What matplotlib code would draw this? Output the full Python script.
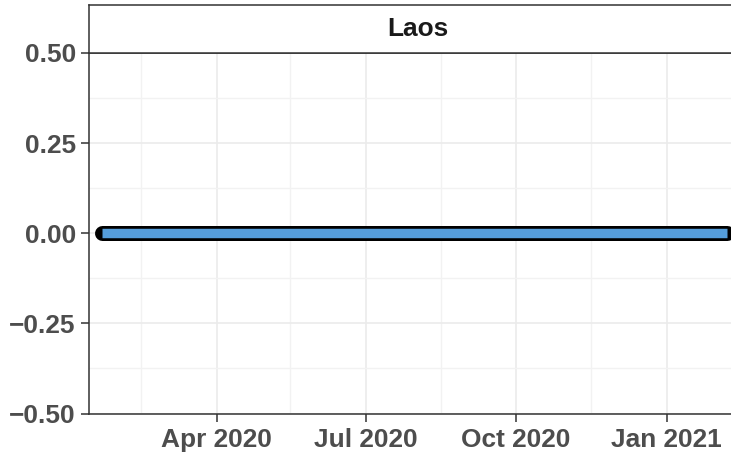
import matplotlib
matplotlib.use("Agg")
import matplotlib.pyplot as plt
import matplotlib.dates as mdates
import numpy as np
import pandas as pd

# ---- data ----
country = "Laos"
dates = pd.to_datetime(["2020-01-22", "2021-02-07"])
values = [0.0, 0.0]
y_ticks = [-0.50, -0.25, 0.00, 0.25, 0.50]
x_ticks = pd.to_datetime(["2020-04-01", "2020-07-01", "2020-10-01", "2021-01-01"])
x_minor = pd.to_datetime(["2020-02-15", "2020-05-16", "2020-08-16", "2020-11-16"])
x_limits = pd.to_datetime(["2020-01-14", "2021-02-27"])

W, H = 731, 453
fig = plt.figure(figsize=(W / 100, H / 100), dpi=100)
plt.rcParams['font.family'] = ['Liberation Sans', 'DejaVu Sans']

left_px, right_px, top_px, bot_px, strip_top_px = 89, 760, 53, 413.5, 5
ax = fig.add_axes([left_px / W, (H - bot_px) / H, (right_px - left_px) / W, (bot_px - top_px) / H])
strip = fig.add_axes([left_px / W, (H - top_px) / H, (right_px - left_px) / W, (top_px - strip_top_px) / H])

border = '#333333'
for s in ax.spines.values():
    s.set_color(border)
    s.set_linewidth(1.1)

ax.set_ylim(-0.5, 0.5)
ax.set_xlim(x_limits[0], x_limits[1])
ax.set_yticks(y_ticks)
ax.set_yticks([-0.375, -0.125, 0.125, 0.375], minor=True)
ax.yaxis.set_major_formatter(matplotlib.ticker.FuncFormatter(lambda v, p: ("%.2f" % v).replace('-', '\u2212')))
ax.set_xticks(x_ticks)
ax.set_xticks(x_minor, minor=True)
ax.xaxis.set_major_formatter(mdates.DateFormatter('%b %Y'))

ax.grid(True, which='major', color='#EBEBEB', linewidth=1.2)
ax.grid(True, which='minor', color='#F2F2F2', linewidth=1.0)
ax.set_axisbelow(True)

ax.tick_params(axis='y', which='major', length=5.5, width=1.1, color=border,
               labelsize=18.9, labelcolor='#4D4D4D', pad=4)
ax.tick_params(axis='x', which='major', length=6, width=1.1, color=border,
               labelsize=18.9, labelcolor='#4D4D4D', pad=4.5)
ax.tick_params(axis='both', which='minor', length=0)
for lab in ax.get_xticklabels() + ax.get_yticklabels():
    lab.set_fontweight('bold')

ax.plot(dates, values, color='black', linewidth=10.8, solid_capstyle='round', zorder=3)
ax.plot(dates, values, color='#559DDA', linewidth=6.8, solid_capstyle='butt', zorder=4)

# strip
strip.set_xticks([])
strip.set_yticks([])
strip.set_facecolor('white')
for s in strip.spines.values():
    s.set_color(border)
    s.set_linewidth(1.1)
strip.text((418 - left_px) / (right_px - left_px), 0.5, country,
           transform=strip.transAxes, ha='center', va='center',
           fontsize=18.9, fontweight='bold', color='#1A1A1A')

fig.savefig('out.png', dpi=100)
